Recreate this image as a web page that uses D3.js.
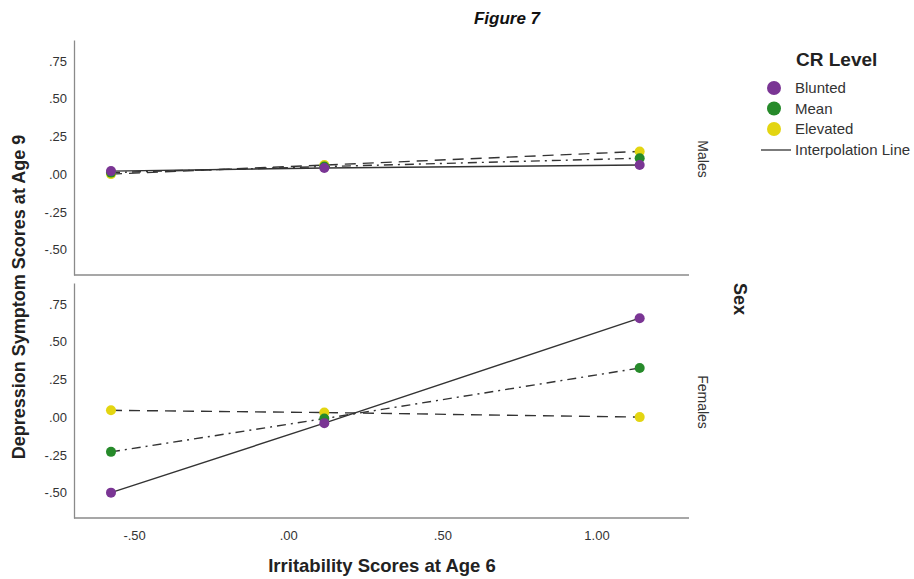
<!DOCTYPE html>
<html>
<head>
<meta charset="utf-8">
<script src="https://cdn.jsdelivr.net/npm/d3@7"></script>
<style>
  body { margin: 0; background: #fff; }
  svg { font-family: "Liberation Sans", Arial, sans-serif; }
</style>
</head>
<body>
<svg id="viz" width="914" height="579"></svg>
<script>
const width = 914;
const height = 579;
const svg = d3.select("#viz");

// data
const sexes = ["Males", "Females"];
const levels = ["Blunted", "Mean", "Elevated"];
const xValues = [-0.575, 0.117, 1.14];
const malesBlunted = [0.02, 0.04, 0.06];
const malesMean = [0.01, 0.05, 0.105];
const malesElevated = [0.0, 0.06, 0.15];
const femalesBlunted = [-0.50, -0.04, 0.655];
const femalesMean = [-0.23, -0.01, 0.325];
const femalesElevated = [0.045, 0.03, 0.0];
const xTicks = [-0.5, 0, 0.5, 1.0];
const yTicks = [-0.5, -0.25, 0, 0.25, 0.5, 0.75];

const seriesBySex = {
    Males: [malesBlunted, malesMean, malesElevated],
    Females: [femalesBlunted, femalesMean, femalesElevated]
};

const colors = { Blunted: "#7a3594", Mean: "#268a2a", Elevated: "#e3d511" };
const dashes = { Blunted: null, Mean: "9,5,2,5", Elevated: "11,7" };

// layout
const left = 74, right = 689;
const panels = [
    { sex: "Males", top: 40, bottom: 275, labelY: 159 },
    { sex: "Females", top: 283, bottom: 518, labelY: 402 }
];

const x = d3.scaleLinear().domain([-0.695, 1.30]).range([left, right]);
const fmt = v => {
    if (v === 0) return ".00";
    const s = Math.abs(v).toFixed(2).replace(/^0/, "");
    return (v < 0 ? "-" : "") + s;
};

panels.forEach(p => {
    const y = d3.scaleLinear().domain([-0.668, 0.888]).range([p.bottom, p.top]);
    const g = svg.append("g");

    // y axis
    const yAxis = g.append("g")
        .attr("transform", `translate(${left},0)`)
        .call(d3.axisLeft(y).tickValues(yTicks).tickFormat(fmt).tickSize(0).tickPadding(7));
    yAxis.select(".domain").attr("stroke", "#8a8a8a").attr("stroke-width", 1.3);
    yAxis.selectAll("text").attr("font-size", 13).attr("fill", "#333");

    // bottom line
    g.append("line")
        .attr("x1", left).attr("x2", right)
        .attr("y1", p.bottom).attr("y2", p.bottom)
        .attr("stroke", "#8a8a8a").attr("stroke-width", 1.3);

    const line = d3.line().x((d, i) => x(xValues[i])).y(d => y(d));

    levels.forEach((lv, k) => {
        const vals = seriesBySex[p.sex][k];
        g.append("path")
            .datum(vals)
            .attr("d", line)
            .attr("fill", "none")
            .attr("stroke", "#333")
            .attr("stroke-width", 1.4)
            .attr("stroke-dasharray", dashes[lv]);
    });

    // points (elevated, mean, blunted drawing order so purple sits on top)
    levels.slice().reverse().forEach(lv => {
        const vals = seriesBySex[p.sex][levels.indexOf(lv)];
        g.selectAll(null)
            .data(vals)
            .enter().append("circle")
            .attr("cx", (d, i) => x(xValues[i]))
            .attr("cy", d => y(d))
            .attr("r", 5)
            .attr("fill", colors[lv]);
    });

    // facet label
    g.append("text")
        .attr("transform", `translate(${698},${p.labelY}) rotate(90)`)
        .attr("text-anchor", "middle")
        .attr("font-size", 14)
        .attr("fill", "#333")
        .text(p.sex);
});

// x axis (bottom panel)
const xAxis = svg.append("g")
    .attr("transform", `translate(0,${panels[1].bottom})`)
    .call(d3.axisBottom(x).tickValues(xTicks).tickFormat(fmt).tickSize(0).tickPadding(13));
xAxis.select(".domain").remove();
xAxis.selectAll("text").attr("font-size", 13).attr("fill", "#333");

// titles
svg.append("text")
    .attr("x", 507).attr("y", 24)
    .attr("text-anchor", "middle")
    .attr("font-size", 17).attr("font-weight", "bold").attr("font-style", "italic")
    .attr("fill", "#111")
    .text("Figure 7");

svg.append("text")
    .attr("x", 382).attr("y", 572)
    .attr("text-anchor", "middle")
    .attr("font-size", 18.5).attr("font-weight", "bold")
    .attr("fill", "#222")
    .text("Irritability Scores at Age 6");

svg.append("text")
    .attr("transform", "translate(25,297) rotate(-90)")
    .attr("text-anchor", "middle")
    .attr("font-size", 18).attr("font-weight", "bold")
    .attr("fill", "#222")
    .text("Depression Symptom Scores at Age 9");

svg.append("text")
    .attr("transform", "translate(734,299) rotate(90)")
    .attr("text-anchor", "middle")
    .attr("font-size", 18).attr("font-weight", "bold")
    .attr("fill", "#222")
    .text("Sex");

// legend
const legend = svg.append("g");
legend.append("text")
    .attr("x", 796).attr("y", 66)
    .attr("font-size", 19).attr("font-weight", "bold")
    .attr("fill", "#222")
    .text("CR Level");

levels.forEach((lv, i) => {
    const ly = 88 + i * 20.5;
    legend.append("circle")
        .attr("cx", 774).attr("cy", ly).attr("r", 7)
        .attr("fill", colors[lv]);
    legend.append("text")
        .attr("x", 795).attr("y", ly + 5)
        .attr("font-size", 15).attr("fill", "#333")
        .text(lv);
});
legend.append("line")
    .attr("x1", 761).attr("x2", 791)
    .attr("y1", 150).attr("y2", 150)
    .attr("stroke", "#333").attr("stroke-width", 1.3);
legend.append("text")
    .attr("x", 795).attr("y", 155)
    .attr("font-size", 15).attr("fill", "#333")
    .text("Interpolation Line");
</script>
</body>
</html>
